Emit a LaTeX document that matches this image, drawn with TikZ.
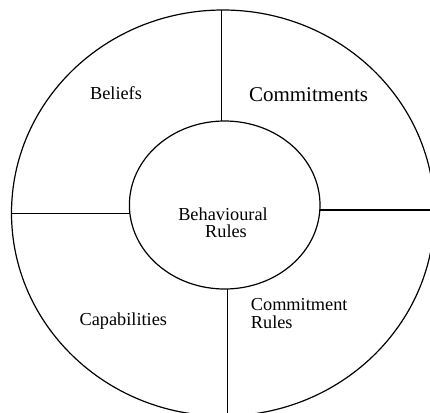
\documentclass[tikz,border=0pt]{standalone}
\usepackage{fontspec}
\setmainfont{Liberation Serif}
\usetikzlibrary{shapes.geometric}
\begin{document}
\begin{tikzpicture}[x=1pt,y=-1pt,
  ring/.style={draw, ellipse, line width=1.2pt, inner sep=0pt, outer sep=0pt},
  divider/.style={draw, line width=1.2pt},
  label/.style={inner sep=0pt, font=\fontsize{18.3}{20}\selectfont},
  biglabel/.style={inner sep=0pt, font=\fontsize{21}{24}\selectfont}]
  \useasboundingbox (0,0) rectangle (430,412);
  \clip (0,0) rectangle (430,412);
  % outer ring and inner core
  \node[ring, minimum width=423pt, minimum height=406pt] (outer) at (223,213) {};
  \node[ring, minimum width=190.6pt, minimum height=168pt] (inner) at (224.7,205) {};
  % the four dividers between core and ring
  \draw[divider] (inner.92.5) -- (inner.92.5 |- outer.north);
  \draw[divider] (inner.185.7) -- (inner.185.7 -| outer.west);
  \draw[divider] (inner.357.8) -- (inner.357.8 -| outer.east);
  \draw[divider] (inner.272.7) -- (inner.272.7 |- outer.south);
  % sector labels
  \node[label, anchor=base] (beliefs) at (116,99) {Beliefs};
  \node[biglabel, anchor=base] (commit) at (308.5,101.7) {Commitments};
  \node[label, anchor=base] (behav) at (223,220) {Behavioural};
  \node[label, anchor=base] (rules) at (226,237.7) {Rules};
  \node[label, anchor=base] (capab) at (123.3,325) {Capabilities};
  \node[label, anchor=base west] (crule1) at (250.7,310) {Commitment};
  \node[label, anchor=base west] (crule2) at (250.7,328.3) {Rules};
\end{tikzpicture}
\end{document}
